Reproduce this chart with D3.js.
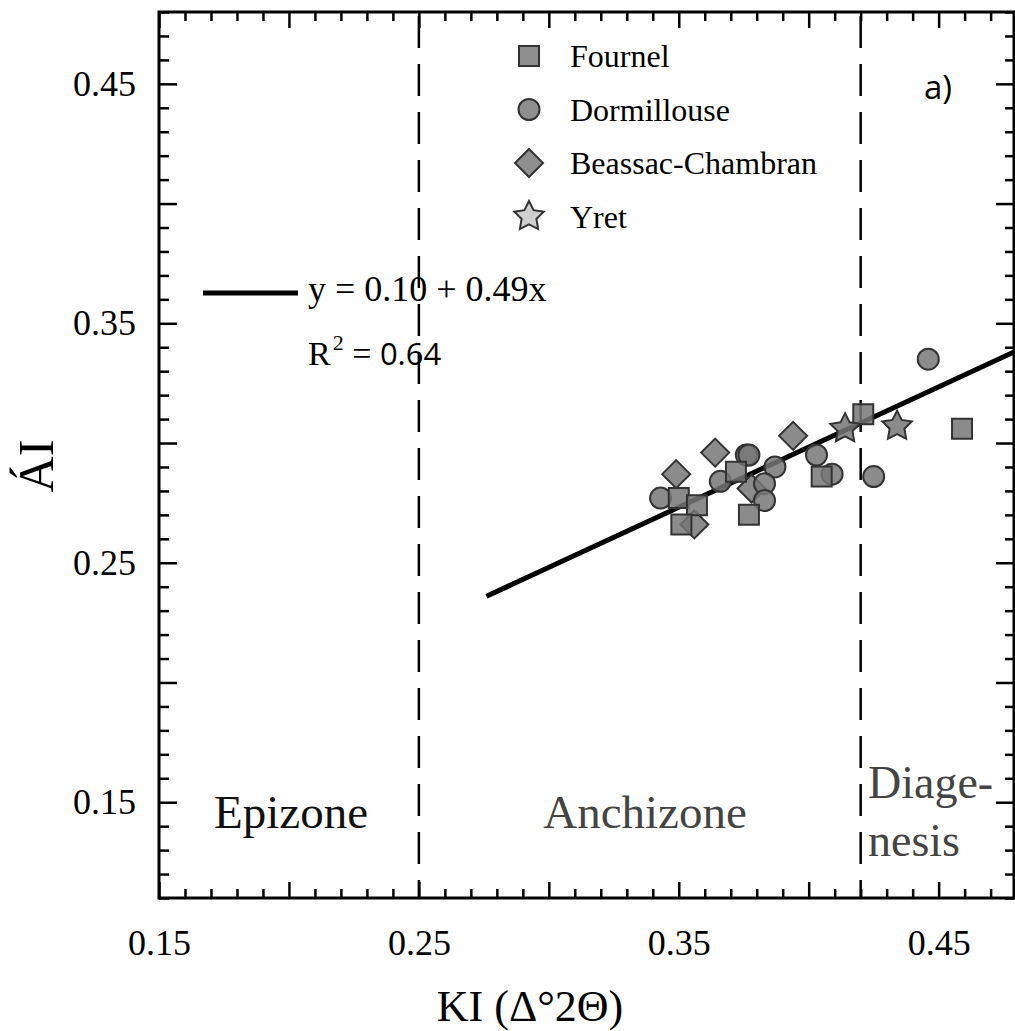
<!DOCTYPE html>
<html>
<head>
<meta charset="utf-8">
<script src="https://cdn.jsdelivr.net/npm/d3@7"></script>
<style>
  html, body { margin: 0; padding: 0; background: #fff; }
  svg { display: block; }
</style>
</head>
<body>
<div id="chart"></div>
<script>
// ── DATA ─────────────────────────────────────
const fournelKI = [0.350, 0.357, 0.351, 0.372, 0.377, 0.405, 0.421, 0.459];
const fournelAI = [0.277, 0.274, 0.266, 0.288, 0.270, 0.286, 0.312, 0.306];

const dormKI = [0.343, 0.366, 0.376, 0.377, 0.387, 0.383, 0.383, 0.403, 0.409, 0.425, 0.446];
const dormAI = [0.277, 0.284, 0.295, 0.295, 0.290, 0.283, 0.276, 0.295, 0.287, 0.286, 0.335];

const beassacKI = [0.349, 0.364, 0.394, 0.378, 0.356];
const beassacAI = [0.287, 0.296, 0.303, 0.281, 0.266];

const yretKI = [0.414, 0.434];
const yretAI = [0.306, 0.307];

// fitted line end points, y = 0.10 + 0.49x
const fitKI = [0.276, 0.479];
const fitAI = [0.236, 0.338];

// zone boundaries
const zoneBounds = [0.25, 0.42];

const xMajor = [0.15, 0.20, 0.25, 0.30, 0.35, 0.40, 0.45];
const yMajor = [0.15, 0.20, 0.25, 0.30, 0.35, 0.40, 0.45];
const xTickLabels = ['0.15', '0.25', '0.35', '0.45'];
const yTickLabels = ['0.15', '0.25', '0.35', '0.45'];

const series = [
  { name: 'Fournel', shape: 'square', ki: fournelKI, ai: fournelAI },
  { name: 'Dormillouse', shape: 'circle', ki: dormKI, ai: dormAI },
  { name: 'Beassac-Chambran', shape: 'diamond', ki: beassacKI, ai: beassacAI },
  { name: 'Yret', shape: 'star', ki: yretKI, ai: yretAI }
];

const SERIF = '"Liberation Serif", "Times New Roman", Times, serif';
const SANS = '"Open Sans", "Noto Sans", sans-serif';

// ── SETUP ────────────────────────────────────
const W = 1015, H = 1031;
const L = 159, R = 1014, T = 12, B = 898;

const svg = d3.select('#chart').append('svg')
  .attr('width', W).attr('height', H);

const x = d3.scaleLinear().domain([0.15, 0.479]).range([L, R]);
const y = d3.scaleLinear().domain([0.11, 0.48]).range([B, T]);

// ── SHAPES ───────────────────────────────────
function shapePath(shape) {
  const p = d3.path();
  if (shape === 'square') {
    p.rect(-10, -10, 20, 20);
  } else if (shape === 'circle') {
    p.arc(0, 0, 10.5, 0, 2 * Math.PI);
  } else if (shape === 'diamond') {
    const h = 14;
    p.moveTo(0, -h); p.lineTo(h, 0); p.lineTo(0, h); p.lineTo(-h, 0); p.closePath();
  } else if (shape === 'star') {
    const ro = 15.5, ri = 7.8;
    for (let i = 0; i < 10; i++) {
      const a = -Math.PI / 2 + i * Math.PI / 5;
      const r = i % 2 ? ri : ro;
      if (i === 0) p.moveTo(r * Math.cos(a), r * Math.sin(a));
      else p.lineTo(r * Math.cos(a), r * Math.sin(a));
    }
    p.closePath();
  }
  return p.toString();
}

// text helper
function addText(sel, str, x0, y0, size, family, anchor, fill) {
  return sel.append('text')
    .attr('x', x0).attr('y', y0)
    .attr('text-anchor', anchor || 'start')
    .attr('fill', fill || '#000')
    .style('font-family', family)
    .style('font-size', size + 'px')
    .text(str);
}

// ── AXES ─────────────────────────────────────
const minorX = d3.range(15, 48).map(i => i / 100).filter(v => Math.round(v * 100) % 5 !== 0);
const minorY = d3.range(11, 49).map(i => i / 100).filter(v => Math.round(v * 100) % 5 !== 0);

const labelX = v => {
  const s = v.toFixed(2);
  return xTickLabels.includes(s) ? s : '';
};
const labelY = v => {
  const s = v.toFixed(2);
  return yTickLabels.includes(s) ? s : '';
};

function styleAxis(g) {
  g.select('.domain').remove();
  g.selectAll('line').attr('stroke', '#000').attr('stroke-width', 2.5);
  g.selectAll('text')
    .attr('fill', '#000')
    .style('font-family', SERIF)
    .style('font-size', '36px');
}

// bottom
svg.append('g').attr('transform', `translate(0,${B})`)
  .call(d3.axisBottom(x).tickValues(xMajor).tickSize(-16).tickPadding(31).tickFormat(labelX))
  .call(styleAxis);
svg.append('g').attr('transform', `translate(0,${B})`)
  .call(d3.axisBottom(x).tickValues(minorX).tickSize(-9).tickFormat(''))
  .call(styleAxis);

// top
svg.append('g').attr('transform', `translate(0,${T})`)
  .call(d3.axisTop(x).tickValues(xMajor).tickSize(-16).tickFormat(''))
  .call(styleAxis);
svg.append('g').attr('transform', `translate(0,${T})`)
  .call(d3.axisTop(x).tickValues(minorX).tickSize(-9).tickFormat(''))
  .call(styleAxis);

// left
svg.append('g').attr('transform', `translate(${L},0)`)
  .call(d3.axisLeft(y).tickValues(yMajor).tickSize(-18).tickPadding(23).tickFormat(labelY))
  .call(styleAxis);
svg.append('g').attr('transform', `translate(${L},0)`)
  .call(d3.axisLeft(y).tickValues(minorY).tickSize(-10).tickFormat(''))
  .call(styleAxis);

// right
svg.append('g').attr('transform', `translate(${R},0)`)
  .call(d3.axisRight(y).tickValues(yMajor).tickSize(-18).tickFormat(''))
  .call(styleAxis);
svg.append('g').attr('transform', `translate(${R},0)`)
  .call(d3.axisRight(y).tickValues(minorY).tickSize(-9).tickFormat(''))
  .call(styleAxis);

// frame
svg.append('rect')
  .attr('x', L).attr('y', T)
  .attr('width', R - L).attr('height', B - T)
  .attr('fill', 'none')
  .attr('stroke', '#000')
  .attr('stroke-width', 3);

// ── ZONE LINES ───────────────────────────────
svg.selectAll('.zone')
  .data(zoneBounds)
  .enter()
  .append('line')
  .attr('x1', d => x(d)).attr('x2', d => x(d))
  .attr('y1', T).attr('y2', B)
  .attr('stroke', '#000')
  .attr('stroke-width', 2.5)
  .attr('stroke-dasharray', '32,16')
  .attr('stroke-dashoffset', -4);

// ── FIT LINE ─────────────────────────────────
svg.append('path')
  .datum(d3.zip(fitKI, fitAI))
  .attr('d', d3.line().x(d => x(d[0])).y(d => y(d[1])))
  .attr('stroke', '#000')
  .attr('stroke-width', 5)
  .attr('fill', 'none');

// ── POINTS ───────────────────────────────────
const drawOrder = ['diamond', 'circle', 'square', 'star'];
drawOrder.forEach(shape => {
  const s = series.find(d => d.shape === shape);
  svg.append('g')
    .selectAll('path')
    .data(d3.zip(s.ki, s.ai))
    .enter()
    .append('path')
    .attr('transform', d => `translate(${x(d[0])},${y(d[1])})`)
    .attr('d', shapePath(shape))
    .attr('fill', '#777')
    .attr('fill-opacity', 0.85)
    .attr('stroke', '#333')
    .attr('stroke-width', 2);
});

// ── LEGEND ───────────────────────────────────
const legend = svg.append('g').attr('transform', 'translate(529,56)');
series.forEach((s, i) => {
  const row = legend.append('g').attr('transform', `translate(0,${i * 53.5})`);
  row.append('path')
    .attr('d', shapePath(s.shape))
    .attr('fill', s.shape === 'star' ? '#cfcfcf' : '#8f8f8f')
    .attr('stroke', '#333')
    .attr('stroke-width', 2);
  addText(row, s.name, 41, 11, 32, SERIF);
});

// ── EQUATION ─────────────────────────────────
svg.append('line')
  .attr('x1', 203).attr('x2', 298)
  .attr('y1', 293).attr('y2', 293)
  .attr('stroke', '#000')
  .attr('stroke-width', 5);

addText(svg, 'y = 0.10 + 0.49x', 308, 301, 36, SERIF);

const r2 = addText(svg, '', 308, 365, 34, SERIF);
r2.append('tspan').text('R');
r2.append('tspan').style('font-size', '22px').attr('dx', 2).attr('dy', -15).text('2');
r2.append('tspan').attr('dy', 15).text(' = ');
r2.append('tspan').style('font-family', SANS).style('font-size', '31px').text('0.64');

// panel tag
addText(svg, 'a)', 924, 99, 33, SANS);

// ── ZONE LABELS ──────────────────────────────
addText(svg, 'Epizone', 291, 828, 47, SERIF, 'middle', '#111');
addText(svg, 'Anchizone', 645, 828, 47, SERIF, 'middle', '#444');
addText(svg, 'Diage-', 868, 798, 46, SERIF, 'start', '#444');
addText(svg, 'nesis', 868, 856, 46, SERIF, 'start', '#444');

// ── AXIS TITLES ──────────────────────────────
addText(svg, 'ÁI', 0, 0, 50, SERIF, 'middle')
  .attr('transform', 'translate(53,466) rotate(-90)');

addText(svg, 'KI (Δ°2Θ)', 530, 1021, 44, SERIF, 'middle');
</script>
</body>
</html>
